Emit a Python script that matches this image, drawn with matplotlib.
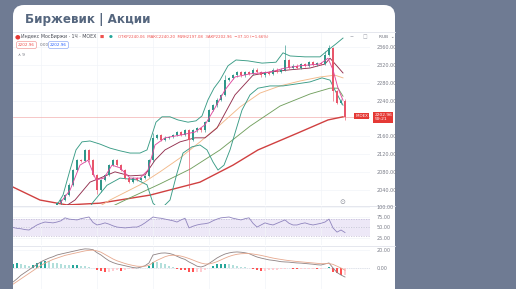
import matplotlib
matplotlib.use('Agg')
import matplotlib.pyplot as plt
from matplotlib.patches import FancyBboxPatch
from matplotlib.lines import Line2D
import numpy as np

# ---------------- data ----------------
# hourly candles, bar index 0..72
closes = [2011, 2018, 2029, 2052, 2085, 2107, 2105, 2130, 2107, 2074,
          2040, 2063, 2074, 2096, 2107, 2096, 2085, 2067, 2058, 2067,
          2063, 2067, 2072, 2107, 2157, 2163, 2152, 2157, 2159, 2163,
          2170, 2163, 2174, 2152, 2174, 2179, 2174, 2192, 2219, 2230,
          2242, 2253, 2286, 2291, 2297, 2304, 2297, 2304, 2300, 2309,
          2304, 2297, 2304, 2300, 2309, 2304, 2309, 2331, 2313, 2318,
          2313, 2322, 2318, 2326, 2320, 2324, 2322, 2342, 2358, 2262,
          2235, 2240.06, 2202.96]
first_open = 2004
spike_high = {57: 2364, 68: 2364, 67: 2352, 42: 2298, 24: 2168}
spike_low = {33: 2045, 10: 2032, 72: 2197.08, 69: 2240, 38: 2205}

bb_upper_x = [-2, 0, 1.5, 3.25, 4.75, 6.25, 8.25, 10.75, 13.25, 15.75, 18.25, 20.75, 22.5,
              23.5, 24.75, 26.25, 28.25, 30.25, 32.75, 34.75, 36.25, 37.75, 39.25, 40.75,
              42.75, 44.75, 47.75, 51.25, 54.75, 56.5, 58.25, 62, 65.75, 67.75, 69.75, 71.5]
bb_upper_y = [1985, 2007, 2029, 2085, 2130, 2148, 2150, 2143, 2134, 2128, 2123, 2123, 2130,
              2157, 2192, 2204, 2204, 2197, 2192, 2195, 2206, 2242, 2268, 2286,
              2318, 2331, 2329, 2324, 2326, 2347, 2340, 2338, 2338, 2353, 2367, 2380]
bb_lower_x = [0, 4, 7, 9, 12.5, 15.75, 20, 22.5, 24, 25.75, 28.25, 30, 31.5, 33.75, 35.75,
              37.5, 39, 40.25, 41.75, 43.25, 44.75, 46.25, 48.25, 50.25, 53.25, 56.5, 59.5,
              63.25, 66.25, 68.25, 69.75, 71.5]
bb_lower_y = [1990, 1975, 1985, 2013, 2051, 2067, 2063, 2052, 2011, 1996, 2018, 2078, 2123,
              2137, 2141, 2130, 2103, 2085, 2096, 2130, 2175, 2219, 2253, 2268, 2273, 2273,
              2277, 2282, 2291, 2286, 2259, 2230]
ma_fast_x = [0.75, 3.25, 5.75, 7.75, 9.75, 11.75, 13.75, 15.75, 18.25, 20.75, 22.75, 24.5, 27,
             30.75, 34.5, 37, 39.5, 42, 44.5, 48.25, 53.25, 57, 60.75, 65.75, 67.75, 69, 70.25, 71.5]
ma_fast_y = [2011, 2040, 2096, 2107, 2063, 2067, 2096, 2090, 2067, 2067, 2085, 2141, 2157,
             2163, 2170, 2186, 2224, 2264, 2293, 2300, 2304, 2313, 2318, 2322, 2335, 2309, 2268, 2241]
ma_mid_x = [0.75, 4.5, 8.25, 10.75, 14.5, 18.25, 22, 24.5, 27, 30.75, 34.5, 37, 40, 44.5, 49,
            53.25, 58.25, 63.25, 67, 68.25, 69.75, 71.5]
ma_mid_y = [1996, 2018, 2058, 2067, 2081, 2072, 2074, 2107, 2130, 2148, 2157, 2157, 2179, 2253,
            2297, 2304, 2309, 2313, 2322, 2335, 2320, 2302]
ma_slow_x = [8.25, 13.25, 20.75, 25.75, 30.75, 35.75, 40.75, 45.75, 50.75, 55.75, 60.75, 65.75, 69.5, 71.5]
ma_slow_y = [1991, 2018, 2052, 2081, 2112, 2148, 2186, 2226, 2257, 2273, 2284, 2293, 2297, 2291]
ma_long_x = [10.75, 18.25, 25.75, 33.25, 40.75, 48.25, 55.75, 63.25, 68.25, 70.25, 71.5]
ma_long_y = [1991, 2023, 2054, 2087, 2130, 2183, 2228, 2255, 2268, 2268, 2250]
ma200_x = [-11, -4.25, 2.5, 10.75, 23.25, 35.75, 44, 50.25, 60.25, 67.75, 71.5]
ma200_y = [2047, 2018, 2007, 2011, 2029, 2058, 2096, 2130, 2168, 2197, 2204]

ind_start = -11  # indicator bars start 11 bars before first visible candle
rsi = [50, 48, 47, 45, 44, 50, 56, 60, 63, 62, 61,
       63, 66, 73, 70, 69, 68, 71, 73, 75, 62,
       56, 58, 61, 58, 54, 51, 50, 49, 50, 51,
       51, 55, 61, 68, 75, 73, 72, 70, 68, 66,
       63, 68, 72, 49, 53, 56, 58, 59, 61, 66,
       70, 73, 74, 75, 72, 70, 68, 71, 73, 60,
       51, 56, 61, 58, 56, 60, 64, 68, 60, 56,
       56, 59, 61, 58, 56, 58, 60, 63, 70, 49,
       39, 44, 38]
macd = [-15.6, -12, -8, -5, -2, 1, 4, 7, 9, 11, 12.5,
        14.4, 15.5, 16.5, 17.5, 18.5, 19.5, 20.5, 21.2, 21, 20.3,
        17, 14.4, 11, 8, 6, 4.5, 3.5, 2.5, 1.5, 0.5,
        0, 1, 2.5, 5.6, 14.4, 15.5, 16.5, 16.7, 16.2, 15,
        13, 11, 9.5, 6.7, 4.5, 2, 1.1, 2.5, 5, 8,
        11.1, 13.5, 15.5, 16.7, 17.5, 17.8, 17.5, 16.9, 16, 14,
        12.2, 11, 10, 9, 8.5, 7.8, 7, 6.7, 6.5, 6,
        5.6, 5.4, 5, 4.6, 4.2, 3.6, 3.3, 4.5, 5.6, 0,
        -5, -7.8, -10]
signal = [-18, -15, -12, -9, -6, -3, 0, 3, 5.5, 7.5, 9.5,
          11, 12.5, 14, 15, 16, 17, 18, 19, 19.6, 19.8,
          19, 17.5, 15, 12.5, 10, 8, 6.5, 5, 3.8, 2.8,
          2, 1.8, 2, 3, 6, 8.5, 10.5, 12.5, 13.8, 14.2,
          14, 13.2, 12, 10.5, 8.8, 7, 5.5, 4.5, 4.5, 5.5,
          7, 9, 11, 12.8, 14.2, 15.2, 15.8, 16, 16, 15.5,
          14.8, 14, 13, 12, 11, 10.2, 9.5, 8.8, 8.2, 7.7,
          7.2, 6.8, 6.4, 6, 5.6, 5.2, 4.8, 4.8, 5, 4,
          2, 0, -2.5]
hist = [4, 5, 4, 3, 2, 3, 5, 7, 8, 7.5, 6,
        5, 4, 3.5, 3, 3, 3, 2.5, 2, 1.5, 0.5,
        -2, -3.5, -4.5, -4, -3, -2.5, -3, -2.5, -1.5, -1,
        -0.5, -0.5, 0.5, 2.5, 7, 6.5, 5.5, 4, 2.5, 1,
        -1, -2, -2.5, -4, -4.5, -4.5, -4, -2, 0.5, 2.5,
        4, 4.5, 4.5, 4, 3, 2.5, 1.5, 1, 0, -1.5,
        -2.5, -3, -3, -2.5, -2.5, -2, -1.5, -1, -0.5, -1,
        -1.5, -1, -1, -1, -1, -1.5, -1.5, 0, 0.6, -4,
        -6, -7.5, -7.5]

price_ticks = [2040, 2080, 2120, 2160, 2240, 2280, 2320, 2360]
rsi_ticks = [25, 50, 75, 100]
macd_ticks = [0, 20]

title = 'Биржевик | Акции'
symbol_text = 'Индекс МосБиржи · 1Ч · MOEX'
ohlc_text = 'ОТКР2240.06  МАКС2240.20  МИН2197.08  ЗАКР2202.96  −37.10 (−1.66%)'
last_label = '2202.96'

# ---------------- figure ----------------
W, H = 516, 289
fig = plt.figure(figsize=(W / 100, H / 100), dpi=100)
fig.patch.set_facecolor('#6f7b93')


def fx(px):
    return px / W


def fy(py):
    return 1 - py / H


card = FancyBboxPatch((0.13, -0.3), 3.82, 2.84 + 0.3,
                      boxstyle='round,pad=0,rounding_size=0.11',
                      transform=fig.dpi_scale_trans, facecolor='white',
                      edgecolor='none', zorder=-5)
fig.patches.append(card)

fig.text(fx(25), fy(20), title, fontsize=8.6, fontweight='bold',
         color='#56677f', va='center', ha='left')

# header / pane separators
for yy in (32, 206, 245.5):
    fig.add_artist(Line2D([fx(13), fx(395)], [fy(yy), fy(yy)],
                          color='#e0e3eb', lw=0.6, zorder=-1))

x0, x1 = -11, 78.25
pw = fx(370) - fx(13)
ax = fig.add_axes([fx(13), fy(205), pw, (205 - 33) / H])
ax_rsi = fig.add_axes([fx(13), fy(245), pw, (245 - 206) / H])
ax_macd = fig.add_axes([fx(13), 0, pw, (289 - 246) / H])

for a in (ax, ax_rsi, ax_macd):
    a.set_facecolor('none')
    a.set_zorder(1)
    for s in a.spines.values():
        s.set_visible(False)
    a.set_xlim(x0, x1)
    a.yaxis.tick_right()
    a.tick_params(axis='y', length=0, pad=5, labelsize=3.5, labelcolor='#7a7d88')
    a.tick_params(axis='x', length=0, labelbottom=False)
    a.set_xticks([-4, 10, 24, 38, 52, 66])
    a.grid(True, color='#f2f4f8', lw=0.5)
    a.set_axisbelow(True)

# ---- main price pane ----
ax.set_ylim(2006.9, 2391.3)
ax.set_yticks(price_ticks)
ax.set_yticklabels([f'{v:.2f}' for v in price_ticks])

n = len(closes)
opens = [first_open] + closes[:-1]
up_c, dn_c = '#2f9689', '#e8566a'
for i in range(n):
    o, c = opens[i], closes[i]
    col = up_c if c >= o else dn_c
    hi = spike_high.get(i, max(o, c) + 3)
    lo = spike_low.get(i, min(o, c) - 3)
    ax.vlines(i, lo, hi, color=col, lw=0.45, zorder=3)
    ax.bar(i, max(abs(c - o), 1.2), bottom=min(o, c), width=0.55, color=col,
           lw=0, zorder=4)

ax.plot(ma200_x, ma200_y, color='#d04040', lw=1.0, zorder=2)
ax.plot(ma_long_x, ma_long_y, color='#73a060', lw=0.65, zorder=2)
ax.plot(ma_slow_x, ma_slow_y, color='#f2b98a', lw=0.65, zorder=2)
ax.plot(ma_mid_x, ma_mid_y, color='#93304f', lw=0.65, zorder=2)
ax.plot(bb_upper_x, bb_upper_y, color='#3a9c86', lw=0.65, zorder=2)
ax.plot(bb_lower_x, bb_lower_y, color='#3a9c86', lw=0.65, zorder=2)
ax.plot(ma_fast_x, ma_fast_y, color='#e04a9e', lw=0.65, zorder=5)

ax.axhline(closes[-1], color='#f3b0b0', lw=0.5, zorder=1)
ax.text(1.012, closes[-1], last_label + '\n59:21', transform=ax.get_yaxis_transform(),
        fontsize=3.2, color='white', ha='left', va='center', clip_on=False,
        bbox=dict(boxstyle='square,pad=0.3', fc='#e53935', ec='none'), zorder=10,
        linespacing=1.1)
ax.text(0.995, closes[-1] + 3, 'IMOEX', transform=ax.get_yaxis_transform(),
        fontsize=2.8, color='white', ha='right', va='center', clip_on=False,
        bbox=dict(boxstyle='square,pad=0.25', fc='#e53935', ec='none'), zorder=10)

# ---- RSI pane ----
ax_rsi.set_ylim(8.3, 101.2)
ax_rsi.set_yticks(rsi_ticks)
ax_rsi.set_yticklabels([f'{v:.2f}' for v in rsi_ticks])
ax_rsi.axhspan(30, 70, color='#ede8f7', lw=0, zorder=0)
for lvl in (30, 50, 70):
    ax_rsi.axhline(lvl, color='#b9b2cf', lw=0.45, ls=(0, (2, 2)), zorder=1)
xi = np.arange(ind_start, ind_start + len(rsi))
ax_rsi.plot(xi, rsi, color='#8f84bd', lw=0.6, zorder=3)

# ---- MACD pane ----
ax_macd.set_ylim(-23.3, 24.4)
ax_macd.set_yticks(macd_ticks)
ax_macd.set_yticklabels([f'{v:.2f}' for v in macd_ticks])
hcols = []
for k, h in enumerate(hist):
    prev = hist[k - 1] if k > 0 else h
    if h >= 0:
        hcols.append('#26a69a' if h >= prev else '#b2dfdb')
    else:
        hcols.append('#ffcdd2' if h >= prev else '#ff5252')
ax_macd.bar(xi, hist, width=0.7, color=hcols, lw=0, zorder=2)
ax_macd.axhline(0, color='#d0d3dc', lw=0.4, ls=(0, (2, 2)), zorder=1)
ax_macd.plot(xi, macd, color='#8e8283', lw=0.6, zorder=3)
ax_macd.plot(xi, signal, color='#e6a88e', lw=0.6, zorder=3)

# ---- header legend ----
fig.text(fx(14.5), fy(36.5), '●', fontsize=4.6, color='#e53935', va='center')
fig.text(fx(21), fy(36.5), symbol_text, fontsize=3.4, color='#4a4d57', va='center')
fig.text(fx(100), fy(36.5), '■', fontsize=3.2, color='#ef5350', va='center')
fig.text(fx(109), fy(36.5), '●', fontsize=3.2, color='#26a69a', va='center')
fig.text(fx(118), fy(36.5), ohlc_text, fontsize=2.75, color='#ef5350', va='center')
fig.text(fx(18), fy(45), last_label, fontsize=3.0, color='#ef5350', va='center',
         bbox=dict(boxstyle='round,pad=0.35,rounding_size=0.4', fc='white', ec='#f19a9a', lw=0.5))
fig.text(fx(40), fy(45), '0.00', fontsize=3.0, color='#6a6d78', va='center')
fig.text(fx(50), fy(45), last_label, fontsize=3.0, color='#2962ff', va='center',
         bbox=dict(boxstyle='round,pad=0.35,rounding_size=0.4', fc='white', ec='#8fa9f5', lw=0.5))
fig.text(fx(18), fy(55), '∧ 9', fontsize=3.0, color='#6a6d78', va='center')
fig.text(fx(350), fy(37), '−', fontsize=3.4, color='#9a9da8', va='center')
fig.text(fx(363), fy(37), '□', fontsize=3.4, color='#9a9da8', va='center')
fig.text(fx(379), fy(37), 'RUB  ⌄', fontsize=3.2, color='#6a6d78', va='center')
fig.text(fx(339), fy(202), '⊙', fontsize=5, color='#8a8d98', va='center')

fig.savefig('out.png', dpi=100, facecolor=fig.get_facecolor())
